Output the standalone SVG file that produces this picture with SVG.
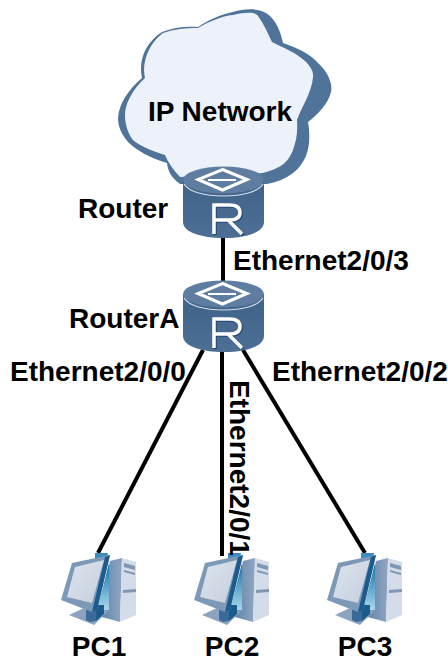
<svg xmlns="http://www.w3.org/2000/svg" width="448" height="662" viewBox="0 0 448 662">
<style>
text{font-family:"Liberation Sans",Arial,sans-serif;font-weight:700;font-size:28px;fill:#000}
.link{stroke:#000;stroke-width:4;fill:none}
</style>
<defs>
<linearGradient id="rb" x1="0" x2="0" y1="0" y2="1"><stop offset="0" stop-color="#3f6288"/><stop offset="1" stop-color="#4d6f95"/></linearGradient>
<linearGradient id="scr" x1="0" x2="1" y1="0" y2="1"><stop offset="0" stop-color="#dde4ee"/><stop offset="1" stop-color="#c5cfdd"/></linearGradient>
<linearGradient id="blue" x1="0" x2="0" y1="0" y2="1"><stop offset="0" stop-color="#0e6ea8"/><stop offset="1" stop-color="#a8d8ec"/></linearGradient>
<linearGradient id="tw" x1="0" x2="1" y1="0" y2="0"><stop offset="0" stop-color="#5f7fa5"/><stop offset="1" stop-color="#8ea6c2"/></linearGradient>
<g id="router">
<path d="M0 13V55C0 65 18 71 41 71S81 65 81 55V13Z" fill="url(#rb)"/>
<ellipse cx="40.500" cy="13" rx="40.500" ry="13.500" fill="#5f7da0"/>
<path d="M1 17C6 25 22 29 40.500 29S75 25 80 17" fill="none" stroke="#d5dfea" stroke-width="1.200"/>
<path d="M39.500 2.500L64 12.500 39.500 23 15 12.500Z" fill="none" stroke="#fff" stroke-width="3"/>
<path d="M25 13H53" stroke="#fff" stroke-width="2"/>
<path d="M32 68V39H47Q58 39 58 46.500Q58 54 47 54H32M46 54L60 68" fill="none" stroke="#22466e" stroke-width="3.500"/>
<path d="M31 67V38H46Q57 38 57 45.500Q57 53 46 53H31M45 53L59 67" fill="none" stroke="#fff" stroke-width="3.500"/>
</g>
<g id="pc">
<path d="M110 561L122 558 120 622 98 616Z" fill="url(#tw)"/>
<path d="M122 558L136 562V615L120 622Z" fill="#d3dce8"/>
<path d="M124 563L135 566V570L124 567ZM124 570L135 573V575L124 572ZM123 590L136 589V592L123 593Z" fill="#7f97b4"/>
<path d="M95 553L108 553 106 570H95Z" fill="#3a8cc0"/>
<path d="M109 563V610H97Z" fill="url(#blue)"/>
<path d="M69 615L86 607 108 611 94 625Z" fill="#8ba3bf"/>
<path d="M86 605H96V621L90 622 86 620Z" fill="#3a6a9a"/>
<path d="M96 605H104V614L96 621Z" fill="#1c5c8c"/>
<path d="M61 600L72 563 110 555 97 610 92 612Z" fill="#7d99b8"/>
<path d="M110 555L97 610 92 612 105 557Z" fill="#1d5a8e"/>
<path d="M67 597L75 567 104 560 92 603Z" fill="url(#scr)"/>
</g>
</defs>
<g id="connectors">
<path class="link" d="M223 235V283"/>
<path class="link" d="M203 350L98 553"/>
<path class="link" d="M222 350V556"/>
<path class="link" d="M243 350L365 553"/>
</g>
<g id="ip-network">
<path d="M118 118C119 104 128 90 142 78C138 60 146 42 162 32C174 27 186 26 198 27C208 20 222 14 233 12C246 8 262 8 270 16C278 24 281 34 283 43C298 48 310 54 318 63C328 72 333 84 331 92C328 104 318 114 308 122C310 133 310 146 306 156C300 170 288 180 267 184H180C172 178 168 172 167 163C150 158 136 150 128 142C122 135 118 127 118 118Z" fill="#4f7399"/>
<path d="M125 115C125 104 132 90 145 78C141 62 150 42 163 33C174 29 186 28 198 28C208 22 222 16 233 15C246 12 256 12 258 16C264 24 268 34 272 42C284 48 294 52 300 57C310 64 314 72 313 77C312 92 302 106 297 120C298 132 296 142 293 150C288 162 282 168 263 173L180 177C173 170 168 162 165 155C150 150 140 146 133 140C128 134 125 124 125 115Z" fill="#edf2fa"/>
<text x="220" y="121" text-anchor="middle">IP Network</text>
</g>
<g id="node-router"><use href="#router" x="183" y="167"/><text x="78" y="218">Router</text></g>
<g id="node-routera"><use href="#router" x="183" y="281"/><text x="69" y="328">RouterA</text></g>
<g id="node-pc1"><use href="#pc"/><text x="99" y="656" text-anchor="middle">PC1</text></g>
<g id="node-pc2"><use href="#pc" x="133"/><text x="232" y="656" text-anchor="middle">PC2</text></g>
<g id="node-pc3"><use href="#pc" x="266"/><text x="365" y="656" text-anchor="middle">PC3</text></g>
<g id="labels">
<text x="233" y="270">Ethernet2/0/3</text>
<text x="10" y="381">Ethernet2/0/0</text>
<text x="272" y="381">Ethernet2/0/2</text>
<text transform="translate(230 380) rotate(90)">Ethernet2/0/1</text>
</g>
</svg>
